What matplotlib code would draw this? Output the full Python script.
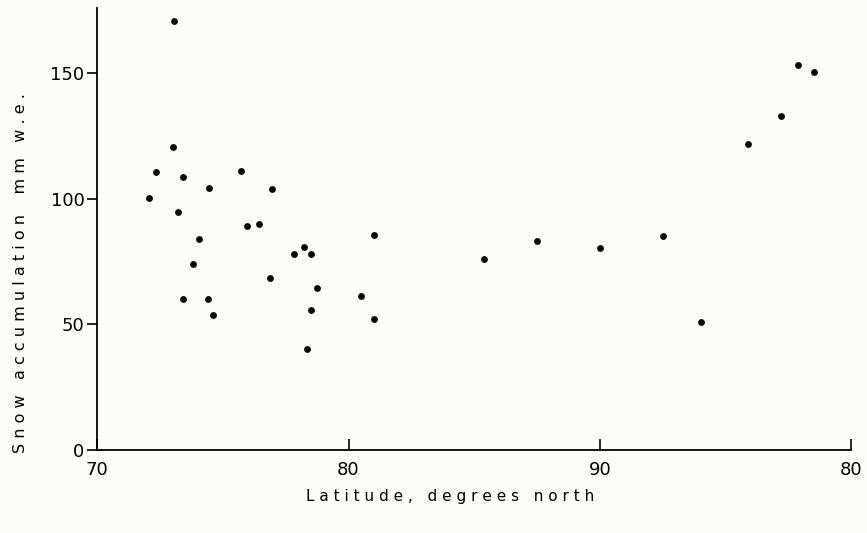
import matplotlib.pyplot as plt

# Position along the traverse (70 -> 90 N, then back down to 80 N) and accumulation
lat_pos = [73.06, 73.03, 72.34, 73.42, 72.07, 73.20, 74.44, 75.72, 76.95, 75.96,
           76.42, 74.06, 73.82, 73.43, 74.41, 74.60, 76.89, 77.85, 78.23, 78.52,
           78.74, 78.52, 78.35, 81.01, 80.48, 81.01,
           85.4, 87.5, 90.0, 92.5, 94.0, 95.9, 97.2, 97.86, 98.5]
snow = [171, 120.5, 110.8, 108.5, 100.3, 94.8, 104.3, 111.1, 104.0, 89.2,
        89.9, 83.9, 73.9, 60.0, 59.9, 53.9, 68.4, 78.0, 80.8, 77.9,
        64.3, 55.9, 40.0, 85.5, 61.2, 52.1,
        76.0, 83.1, 80.6, 85.0, 51.0, 121.8, 132.9, 153.1, 150.6]

xtick_pos = [70, 80, 90, 100]
xtick_labels = ["70", "80", "90", "80"]
ytick_pos = [0, 50, 100, 150]

bg = "#fdfdf8"
fig = plt.figure(figsize=(8.67, 5.33), dpi=100, facecolor=bg)
ax = fig.add_axes([0.112, 0.156, 0.870, 0.829], facecolor=bg)

ax.scatter(lat_pos, snow, s=24, color="black", zorder=3, linewidths=0)

ax.set_xlim(70, 100)
ax.set_ylim(0, 176)
ax.spines["top"].set_visible(False)
ax.spines["right"].set_visible(False)
for s in ["left", "bottom"]:
    ax.spines[s].set_linewidth(1.3)

ax.set_xticks(xtick_pos)
ax.set_xticklabels(xtick_labels)
ax.set_yticks(ytick_pos)
ax.tick_params(axis="x", direction="in", length=8, width=1.2, pad=8, labelsize=13)
ax.tick_params(axis="y", direction="out", length=7, width=1.2, pad=2, labelsize=13)

ax.set_xlabel("L a t i t u d e ,   d e g r e e s   n o r t h", fontsize=11)
ax.xaxis.set_label_coords(0.468, -0.088)
ax.set_ylabel("S n o w   a c c u m u l a t i o n    m m   w . e .", fontsize=11.5)
ax.yaxis.set_label_coords(-0.092, 0.40)

fig.savefig("out.png", dpi=100, facecolor=bg)
